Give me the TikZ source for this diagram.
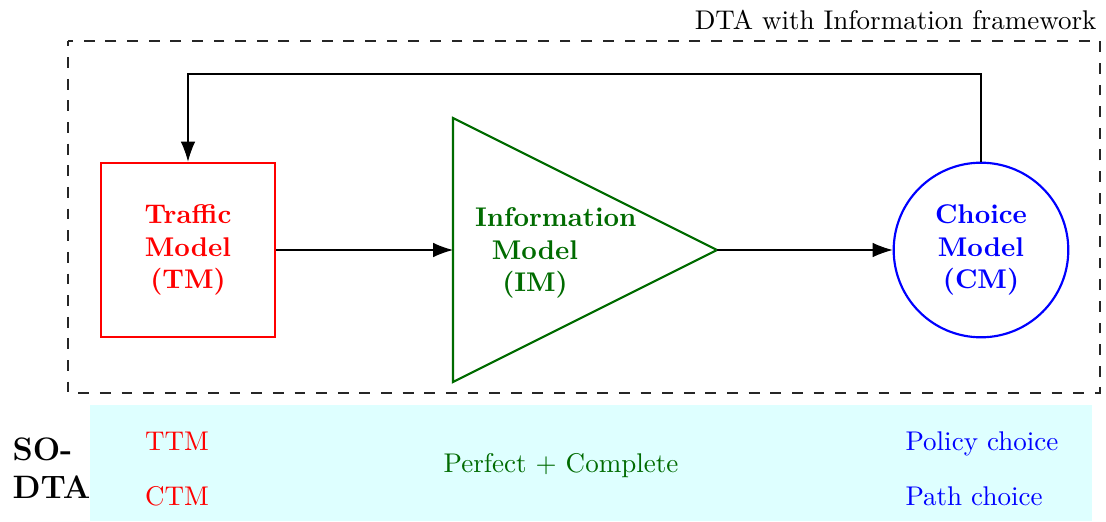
\documentclass[tikz,border=0pt]{standalone}
\usepackage{tikz}
\usetikzlibrary{arrows.meta,positioning}
\definecolor{imgreen}{rgb}{0,0.42,0}
\definecolor{rowcyan}{rgb}{0.87,1,1}
\tikzset{
  tmbox/.style={
    draw=red,
    thick,
    text=red,
    font=\bfseries,
    align=center,
    minimum width=2.27cm,
    minimum height=2.27cm
  },
  cmcircle/.style={
    circle,
    draw=blue,
    thick,
    text=blue,
    font=\bfseries,
    align=center,
    minimum size=2.27cm
  },
  imlabel/.style={
    text=imgreen,
    font=\bfseries,
    align=center,
    text width=1.56cm,
    inner sep=0pt
  },
  rowtext/.style={
    inner sep=0pt
  },
  framebox/.style={
    draw=black!85,
    line width=0.4pt,
    dash pattern=on 4pt off 4pt,
    dash phase=2pt
  },
  flowarrow/.style={
    -{Latex[length=2.6mm,width=1.9mm]},
    line width=0.4pt
  }
}

\begin{document}
\begin{tikzpicture}[x=0.013cm, y=-0.013cm]
  \useasboundingbox (0,0) rectangle (1106,522);
  % framework
  \draw[framebox] (68,41) rectangle (1100,393);
  \node[rowtext, anchor=base east] (frametitle) at (1097,29) {DTA with Information framework};
  \node[tmbox] (tm) at (188,250) {Traffic\\Model\\(TM)};
  \draw[imgreen, thick] (453,118) -- (717,250) -- (453,382) -- cycle;
  \coordinate (imin) at (453,250);
  \coordinate (imout) at (717,250);
  \node[imlabel] (im) at (535,253) {Information\\Model\\(IM)};
  \node[cmcircle] (cm) at (981,250) {Choice\\Model\\(CM)};
  \coordinate (loop) at (981,74);
  \draw[flowarrow] (tm) -- (imin);
  \draw[flowarrow] (imout) -- (cm);
  \draw[flowarrow] (cm.north) -- (loop) -| (tm.north);
  % SO-DTA row
  \fill[rowcyan] (90,405) rectangle (1092,521);
  \node[rowtext, anchor=west, align=left, font=\large\bfseries] (sodta) at (12,468) {SO-\\DTA};
  \node[rowtext, anchor=base, text=red] (ttm) at (177,450) {TTM};
  \node[rowtext, anchor=base, text=red] (ctm) at (177,505) {CTM};
  \node[rowtext, anchor=base, text=imgreen] (perfect) at (561,472) {Perfect + Complete};
  \node[rowtext, anchor=base west, text=blue] (policy) at (905,450) {Policy choice};
  \node[rowtext, anchor=base west, text=blue] (path) at (905,505) {Path choice};
\end{tikzpicture}
\end{document}
